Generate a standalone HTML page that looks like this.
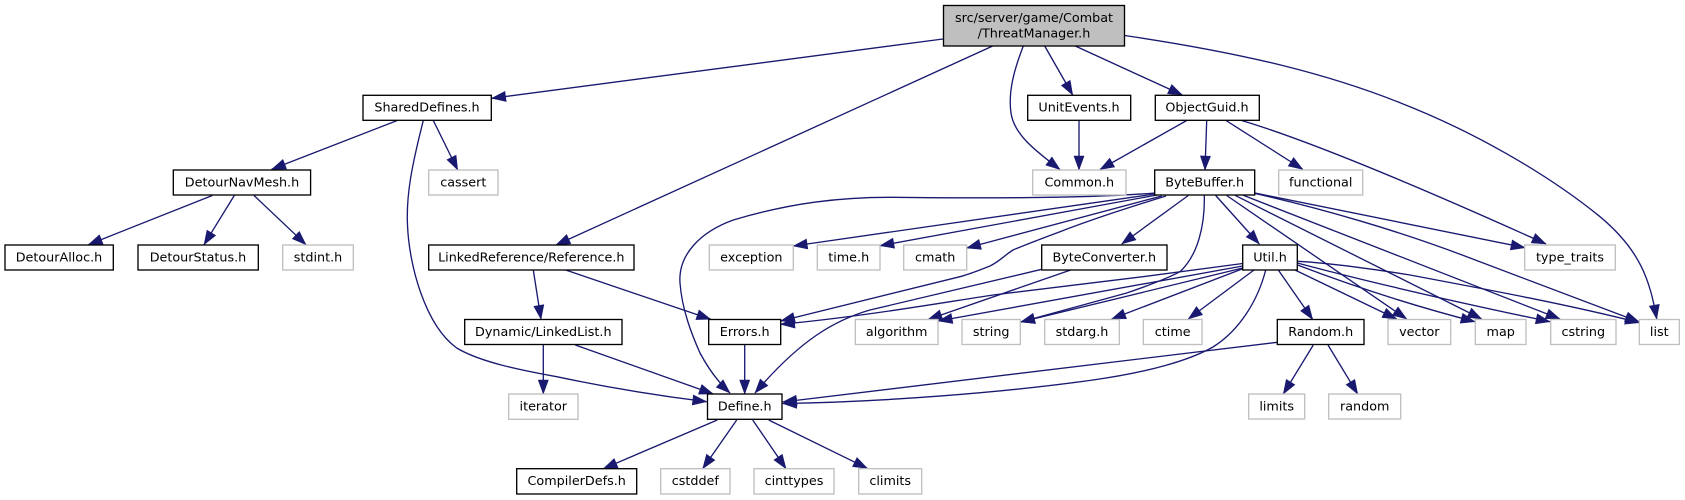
<!DOCTYPE html>
<html>
<head>
<meta charset="utf-8">
<style>
html,body{margin:0;padding:0;background:#fff;}
svg{display:block;}
text{font-family:"DejaVu Sans",sans-serif;font-size:12.75px;fill:#000;text-anchor:middle;}
.e path{fill:none;stroke:#191970;stroke-width:1.33;marker-end:url(#a);}
.n rect{fill:#fff;stroke:#000;stroke-width:1.33;}
.g rect{fill:#fff;stroke:#bfbfbf;stroke-width:1.33;}
</style>
</head>
<body>
<svg xmlns="http://www.w3.org/2000/svg" width="1685" height="500" viewBox="0 0 1685 500">
<defs>
<marker id="a" markerUnits="userSpaceOnUse" markerWidth="17" markerHeight="13" refX="14.5" refY="6" orient="auto">
<path d="M0.5,0.9 L14.5,6 L0.5,11.1 Z" fill="#191970" stroke="#191970" stroke-width="0.5"/>
</marker>
</defs>
<g class="e">
<path d="M943,39 L491.7,98.3"/>
<path d="M992.7,46 L556,245"/>
<path d="M1023.3,46 C1014,70 1008,92 1011,113 C1014,135 1037,152 1060,169.5"/>
<path d="M1044.7,46 L1072.7,95"/>
<path d="M1075.3,46 L1182.3,95"/>
<path d="M1124.7,35.5 C1250,54 1330,75 1400,102.7 C1470,130 1545,172 1600,216.7 C1640,250 1650,280 1656.7,319"/>
<path d="M1079,120.3 L1079,170"/>
<path d="M1186.7,120.5 L1100,169.5"/>
<path d="M1206.7,120.5 L1205,170"/>
<path d="M1226,120.5 L1302.7,169.3"/>
<path d="M1241.7,120.5 C1300,138 1400,178 1546,244"/>
<path d="M397.3,120.5 L271.7,169.3"/>
<path d="M433.3,120.5 L457.7,170"/>
<path d="M423.3,120.5 C412,165 406,195 407.5,225 C409,265 425,325 456.7,348 C480,362 520,370 556.7,376.7 C610,388 660,396 706.7,401.7"/>
<path d="M212.3,195.5 L88.3,244.7"/>
<path d="M234.3,195.5 L204,244.7"/>
<path d="M254,195.5 L306,244.7"/>
<path d="M533.3,270 L541,319.3"/>
<path d="M565.7,270 L710.7,319.3"/>
<path d="M543.3,345 L543.3,394"/>
<path d="M575.3,345 L713.3,394"/>
<path d="M744.7,345 L744.7,394"/>
<path d="M717.3,420 L603.3,468.7"/>
<path d="M736.7,420 L702.7,468.7"/>
<path d="M752.7,420 L786,468.7"/>
<path d="M768.7,420 L867.3,468.3"/>
<path d="M1154.7,193 C1080,199 960,198 893,197.3 C840,197 790,203 733.3,220 C700,232 678,255 680,283 C682,310 692,335 700,353 C708,368 718,382 730,393"/>
<path d="M1155,194 L793.3,246"/>
<path d="M1157,195 L880,245.7"/>
<path d="M1161.7,196 L966.7,248"/>
<path d="M1166,196 C1130,207 1085,222 1060,231.7 C1035,241 1020,247 1013,250 C1005,255 1000,261 990,266 C980,270 970,274 960,276.7 L780.7,321"/>
<path d="M1041.7,269.3 L870,310 C835,320 800,340 755,393"/>
<path d="M1070.7,270 L928,319.5"/>
<path d="M1242.7,263.5 L1143,276.7 L993,295 C940,303 860,317 780.7,324.3"/>
<path d="M1242.7,266 L938.3,321"/>
<path d="M1242.7,268 L1020.7,322"/>
<path d="M1204.3,195.5 C1205,225 1198,255 1180,271.7 C1170,277 1150,285 1126.7,293 L1020.7,322"/>
<path d="M1242.7,268.7 L1111.7,319"/>
<path d="M1254,270 L1188.3,319"/>
<path d="M1265.7,270 C1258,300 1240,330 1213,347 C1190,360 1150,372 1093,380 C1000,393 880,402 782.7,403.5"/>
<path d="M1277.3,342.3 L782.7,402"/>
<path d="M1313.3,345 L1283.3,394"/>
<path d="M1328,345 L1357.7,394"/>
<path d="M1278.3,270 L1312.7,319.5"/>
<path d="M1295,270 L1396.7,319"/>
<path d="M1297.5,265 C1350,285 1410,305 1475,321.7"/>
<path d="M1297.3,263 C1380,285 1470,305 1550,321.7"/>
<path d="M1298,261.3 C1330,263 1380,270 1410,275 C1490,290 1570,305 1639.3,322.7"/>
<path d="M1226.7,195.5 L1406.7,319"/>
<path d="M1235,195.3 L1481.7,319"/>
<path d="M1243.3,195.3 L1560,319"/>
<path d="M1255,193.5 C1320,208 1400,231 1470,258 C1540,285 1600,307 1639.3,322"/>
<path d="M1255,193 L1525,247.7"/>
<path d="M1215.7,195.5 L1259.3,244"/>
<path d="M1188.3,195.5 L1121.7,244"/>
</g>

<g class="n">
<rect x="943.5" y="5.5" width="181" height="40.5" style="fill:#bfbfbf;stroke:#000"/>
<text x="1034" y="22">src/server/game/Combat</text>
<text x="1034" y="37.5">/ThreatManager.h</text>
<rect x="1027.7" y="95.3" width="103" height="25"/><text x="1079" y="111.5">UnitEvents.h</text>
<rect x="1155.3" y="95.3" width="104" height="25"/><text x="1207" y="111.5">ObjectGuid.h</text>
<rect x="363" y="95.3" width="128.3" height="25"/><text x="427" y="111.5">SharedDefines.h</text>
<rect x="173.3" y="170" width="137.3" height="25"/><text x="242" y="186.5">DetourNavMesh.h</text>
<rect x="1154.7" y="170" width="100" height="25"/><text x="1204.7" y="186.5">ByteBuffer.h</text>
<rect x="5" y="245" width="108.3" height="25"/><text x="59" y="261.5">DetourAlloc.h</text>
<rect x="138" y="245" width="120.3" height="25"/><text x="198" y="261.5">DetourStatus.h</text>
<rect x="428.7" y="245" width="205.3" height="25"/><text x="531.3" y="261.5">LinkedReference/Reference.h</text>
<rect x="1041.7" y="245" width="125.3" height="25"/><text x="1104.3" y="261.5">ByteConverter.h</text>
<rect x="1242.7" y="245" width="54.6" height="25"/><text x="1270" y="261.5">Util.h</text>
<rect x="464.7" y="319.5" width="157.3" height="25"/><text x="543.3" y="336">Dynamic/LinkedList.h</text>
<rect x="708.7" y="319.5" width="72" height="25"/><text x="744.7" y="336">Errors.h</text>
<rect x="1277.3" y="319.5" width="86.7" height="25"/><text x="1320.7" y="336">Random.h</text>
<rect x="707.5" y="394" width="74.5" height="25.3"/><text x="744.7" y="410.5">Define.h</text>
<rect x="516.7" y="468.7" width="120" height="25.3"/><text x="576.7" y="485">CompilerDefs.h</text>
</g>

<g class="g">
<rect x="1032.7" y="170" width="93.3" height="25"/><text x="1079.3" y="186.5">Common.h</text>
<rect x="1278.7" y="170" width="84" height="25"/><text x="1320.7" y="186.5">functional</text>
<rect x="428.7" y="170" width="69.3" height="25"/><text x="463.3" y="186.5">cassert</text>
<rect x="282.7" y="245" width="70.6" height="25"/><text x="318" y="261.5">stdint.h</text>
<rect x="709.3" y="245" width="84" height="25"/><text x="751.3" y="261.5">exception</text>
<rect x="817.3" y="245" width="62.7" height="25"/><text x="848.7" y="261.5">time.h</text>
<rect x="903.7" y="245" width="63" height="25"/><text x="935.2" y="261.5">cmath</text>
<rect x="1524.7" y="245" width="90.6" height="25"/><text x="1570" y="261.5">type_traits</text>
<rect x="855.3" y="319.5" width="82.7" height="25"/><text x="896.7" y="336">algorithm</text>
<rect x="962" y="319.5" width="58.3" height="25"/><text x="991.2" y="336">string</text>
<rect x="1044.7" y="319.5" width="74.6" height="25"/><text x="1082" y="336">stdarg.h</text>
<rect x="1143.3" y="319.5" width="58.7" height="25"/><text x="1172.7" y="336">ctime</text>
<rect x="1388" y="319.5" width="62.7" height="25"/><text x="1419.3" y="336">vector</text>
<rect x="1475.3" y="319.5" width="50.7" height="25"/><text x="1500.7" y="336">map</text>
<rect x="1550.7" y="319.5" width="65.3" height="25"/><text x="1583.3" y="336">cstring</text>
<rect x="1639.3" y="319.5" width="40" height="25"/><text x="1659.3" y="336">list</text>
<rect x="508.7" y="394" width="69.3" height="25.3"/><text x="543.3" y="410.5">iterator</text>
<rect x="1248.7" y="394" width="56" height="25"/><text x="1276.7" y="410.5">limits</text>
<rect x="1328.7" y="394" width="72" height="25"/><text x="1364.7" y="410.5">random</text>
<rect x="660.7" y="468.7" width="69.3" height="25.3"/><text x="695.3" y="485">cstddef</text>
<rect x="754" y="468.7" width="80" height="25.3"/><text x="794" y="485">cinttypes</text>
<rect x="858.7" y="468.7" width="63" height="25.3"/><text x="890.2" y="485">climits</text>
</g>
</svg>
</body>
</html>
